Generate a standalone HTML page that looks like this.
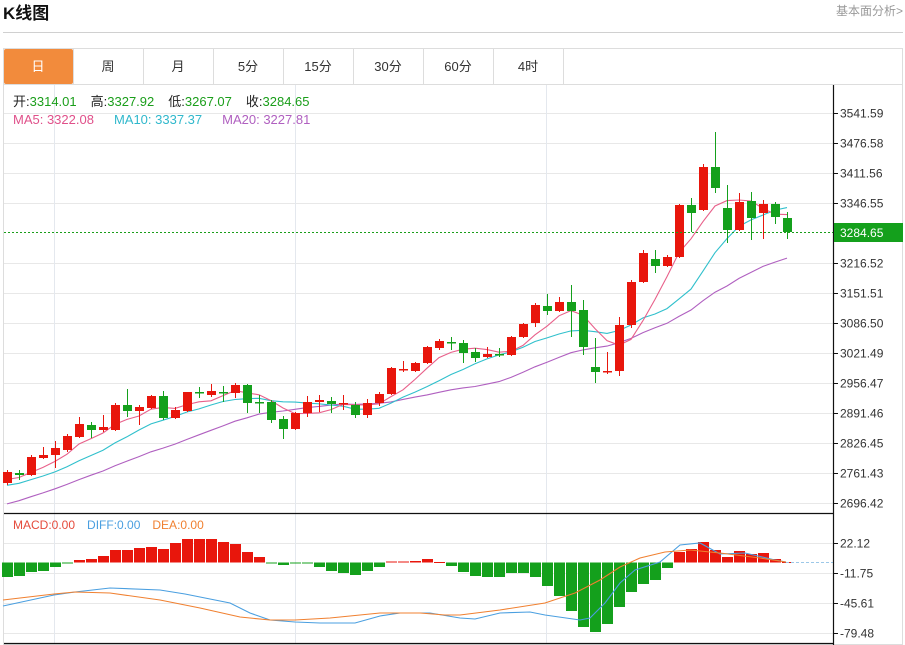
<!DOCTYPE html>
<html><head><meta charset="utf-8">
<style>
body{margin:0;background:#fff;width:905px;height:645px;overflow:hidden;font-family:"Liberation Sans","Noto Sans CJK SC",sans-serif;}
</style></head>
<body>
<svg id="s" width="905" height="645" xmlns="http://www.w3.org/2000/svg" style="position:absolute;left:0;top:0">
<text x="3" y="19" font-size="17" font-weight="bold" fill="#111" font-family="Liberation Sans,Noto Sans CJK SC,sans-serif">K线图</text>
<text x="903" y="15" font-size="12" fill="#999" text-anchor="end" font-family="Liberation Sans,Noto Sans CJK SC,sans-serif">基本面分析&gt;</text>
<line x1="3" y1="32.5" x2="903" y2="32.5" stroke="#d0d0d0"/>
<rect x="3.5" y="48.5" width="899" height="596" fill="none" stroke="#ddd"/>
<line x1="3" y1="84.5" x2="903" y2="84.5" stroke="#ddd"/>
<rect x="4" y="49" width="69" height="35" fill="#f28b3c" rx="2"/>
<g id="tabs" font-size="13" fill="#333" text-anchor="middle" font-family="Liberation Sans,Noto Sans CJK SC,sans-serif"></g>
<g id="grid"></g>
<g id="ma"></g>
<g id="candles"></g>
<g id="macd"></g>
<g id="axis" font-size="12" fill="#333" font-family="Liberation Sans,sans-serif"></g>
<text y="106" font-size="13" font-family="Liberation Sans,Noto Sans CJK SC,sans-serif"><tspan x="13" fill="#222">开:</tspan><tspan fill="#1a9e1a">3314.01</tspan><tspan dx="14" fill="#222">高:</tspan><tspan fill="#1a9e1a">3327.92</tspan><tspan dx="14" fill="#222">低:</tspan><tspan fill="#1a9e1a">3267.07</tspan><tspan dx="14" fill="#222">收:</tspan><tspan fill="#1a9e1a">3284.65</tspan></text>
<text y="124" font-size="13" font-family="Liberation Sans,sans-serif"><tspan x="13" fill="#e0508a">MA5: 3322.08</tspan><tspan dx="20" fill="#30b8cc">MA10: 3337.37</tspan><tspan dx="20" fill="#b060c0">MA20: 3227.81</tspan></text>
<text y="529" font-size="12" font-family="Liberation Sans,sans-serif"><tspan x="13" fill="#e54b3c">MACD:0.00</tspan><tspan dx="12" fill="#4a9fe0">DIFF:0.00</tspan><tspan dx="12" fill="#f08030">DEA:0.00</tspan></text>
</svg>
<script>
var NS="http://www.w3.org/2000/svg";
function el(p,t,a){var e=document.createElementNS(NS,t);for(var k in a)e.setAttribute(k,a[k]);document.getElementById(p).appendChild(e);return e;}
var tabs=["日","周","月","5分","15分","30分","60分","4时"];
tabs.forEach(function(t,i){var x=3+70*i;
 var tx=el("tabs","text",{x:x+35,y:71,fill:i==0?"#fff":"#333"});tx.textContent=t;
 el("tabs","line",{x1:x+70.5,y1:48,x2:x+70.5,y2:84,stroke:"#ddd"});});
[113,143,173,203,263,293,323,353,383,413,443,473,503,543,573,603,633].forEach(function(y){el("grid","line",{x1:4,y1:y+.5,x2:833,y2:y+.5,stroke:"#e8e8e8"});});
[54,295,546].forEach(function(x){el("grid","line",{x1:x+.5,y1:85,x2:x+.5,y2:643,stroke:"#e4e8ee"});});
var C=[[483,472,470,485],[473,475,470,480],[475,457,455,476],[458,455,447,459],[455,448,441,468],[450,436,434,452],[437,424,417,438],[425,430,422,438],[430,427,415,432],[430,405,403,431],[405,411,389,417],[411,407,405,425],[408,396,395,409],[396,418,391,420],[418,410,407,419],[411,392,392,412],[392,393,387,398],[395,391,384,397],[392,392,386,402],[393,385,383,398],[385,403,384,413],[402,403,395,413],[402,420,400,423],[419,429,416,439],[429,413,412,430],[413,402,396,417],[402,400,395,412],[401,404,397,413],[404,403,395,410],[405,415,402,418],[415,403,399,418],[403,394,392,406],[394,368,367,395],[370,369,361,372],[371,363,362,372],[363,347,346,364],[348,341,339,350],[342,342,337,350],[343,353,340,363],[352,358,348,362],[357,354,347,358],[354,354,348,357],[355,337,336,356],[337,324,323,338],[323,305,303,327],[306,311,294,315],[311,302,297,312],[302,311,285,337],[310,347,300,355],[367,372,338,383],[372,371,352,374],[371,325,317,376],[325,282,280,328],[282,253,250,283],[259,266,250,273],[266,257,255,267],[257,205,204,258],[205,213,198,232],[210,167,164,211],[167,188,132,193],[208,230,185,243],[230,202,193,231],[201,218,192,240],[213,204,200,239],[204,217,202,224],[218,232,212,239]];
var X=function(i){return 7+12*i;};
var closes=[];for(var k=19;k>=10;k--)closes.push(505+(k-10)*3.9);for(var k=9;k>=1;k--)closes.push(478+(k-1)*2.2);
C.forEach(function(c){closes.push(c[1]);});
function ma(n,col){var pts=[];for(var i=0;i<C.length;i++){var j=i+19,s=0;for(var m=0;m<n;m++)s+=closes[j-m];pts.push(X(i)+","+(s/n).toFixed(1));}
 el("ma","polyline",{points:pts.join(" "),fill:"none",stroke:col,"stroke-width":1.1});}
ma(20,"#b060c0");ma(10,"#30c0cc");ma(5,"#e8608a");
C.forEach(function(c,i){var col=c[1]<=c[0]&&!(c[1]==c[0]&&[18,37,41].indexOf(i)>=0)?"#e8160c":"#14a01c";
 var x=X(i);el("candles","line",{x1:x+.5,y1:c[2],x2:x+.5,y2:c[3],stroke:col,"stroke-width":1});
 var t=Math.min(c[0],c[1]),h=Math.max(1.5,Math.abs(c[0]-c[1]));el("candles","rect",{x:x-4,y:t,width:9,height:h,fill:col});});
var H=[577,576,572,571,567,563.5,560,559,556,550,550,548,547,549,543,539,539,539,542,544,552,557,563,565,563,563,567,571,573,575,571,567,561.5,561.5,561,559,562,566,572,576,577,577,573,573,577,586,596,611,627,632,624,607,592,584,580,568,552,549,542,550,557,551,554,553,559,562];
var Z=562.5;
H.forEach(function(y,i){var x=X(i);var col=y<Z?"#e8160c":"#14a01c";var t=Math.min(y,Z),h=Math.max(1,Math.abs(y-Z));el("macd","rect",{x:x-5,y:t,width:11,height:h,fill:col});});
el("macd","polyline",{points:"3,606 54,595 75,592 110,588 160,590 185,594 230,603 250,613 270,620 295,622 320,623 355,623 380,616 400,613 430,613 460,618 475,619 500,613 530,612 545,615 580,620 590,618 605,603 620,583 635,570 660,562 680,545 700,543 720,554 745,553 775,560 786,562",fill:"none",stroke:"#4a9fe0","stroke-width":1.1});
el("macd","polyline",{points:"3,600 54,594 75,592 110,593 160,600 200,608 240,617 270,620 295,620 330,618 380,613 420,613 445,615 460,615 500,610 545,603 575,593 600,580 620,567 640,558 665,552 690,550 720,553 760,558 786,562",fill:"none",stroke:"#f08030","stroke-width":1.1});
el("macd","line",{x1:786,y1:562.5,x2:833,y2:562.5,stroke:"#9cc8e8","stroke-dasharray":"3,2"});
el("axis","line",{x1:4,y1:513.5,x2:833,y2:513.5,stroke:"#111","stroke-width":1.2});
el("axis","line",{x1:4,y1:643.5,x2:833,y2:643.5,stroke:"#111","stroke-width":1.2});
el("axis","line",{x1:833.5,y1:85,x2:833.5,y2:645,stroke:"#111","stroke-width":1.2});
el("axis","line",{x1:4,y1:232.5,x2:833,y2:232.5,stroke:"#1a9e1a","stroke-dasharray":"2,2"});
var L=[["3541.59",113],["3476.58",143],["3411.56",173],["3346.55",203],["3216.52",263],["3151.51",293],["3086.50",323],["3021.49",353],["2956.47",383],["2891.46",413],["2826.45",443],["2761.43",473],["2696.42",503],["22.12",543],["-11.75",573],["-45.61",603],["-79.48",633]];
L.forEach(function(l){el("axis","line",{x1:833,y1:l[1]+.5,x2:838,y2:l[1]+.5,stroke:"#111"});var t=el("axis","text",{x:840,y:l[1]+4.5});t.textContent=l[0];});
el("axis","rect",{x:834,y:223,width:69,height:19,fill:"#14a01c"});
var t=el("axis","text",{x:840,y:237,fill:"#fff"});t.textContent="3284.65";
</script>
</body></html>
